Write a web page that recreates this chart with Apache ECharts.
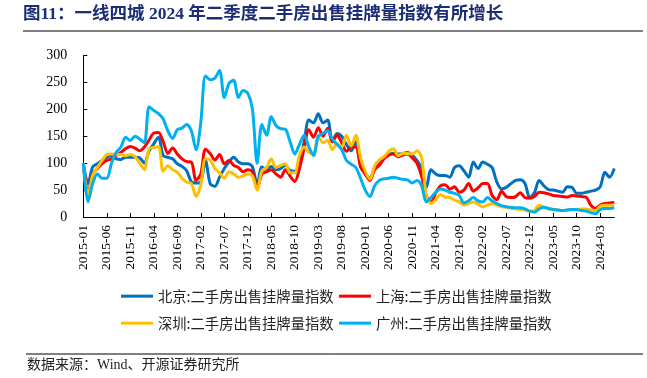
<!DOCTYPE html>
<html><head><meta charset="utf-8">
<script src="https://cdn.jsdelivr.net/npm/echarts@6/dist/echarts.min.js"></script>
<style>html,body{margin:0;padding:0;background:#fff}#c{width:647px;height:378px}</style>
</head><body><div id="c"></div>
<script>
const categories = [
'2015-01','2015-02','2015-03','2015-04','2015-05','2015-06','2015-07','2015-08','2015-09','2015-10','2015-11','2015-12',
'2016-01','2016-02','2016-03','2016-04','2016-05','2016-06','2016-07','2016-08','2016-09','2016-10','2016-11','2016-12',
'2017-01','2017-02','2017-03','2017-04','2017-05','2017-06','2017-07','2017-08','2017-09','2017-10','2017-11','2017-12',
'2018-01','2018-02','2018-03','2018-04','2018-05','2018-06','2018-07','2018-08','2018-09','2018-10','2018-11','2018-12',
'2019-01','2019-02','2019-03','2019-04','2019-05','2019-06','2019-07','2019-08','2019-09','2019-10','2019-11','2019-12',
'2020-01','2020-02','2020-03','2020-04','2020-05','2020-06','2020-07','2020-08','2020-09','2020-10','2020-11','2020-12',
'2021-01','2021-02','2021-03','2021-04','2021-05','2021-06','2021-07','2021-08','2021-09','2021-10','2021-11','2021-12',
'2022-01','2022-02','2022-03','2022-04','2022-05','2022-06','2022-07','2022-08','2022-09','2022-10','2022-11','2022-12',
'2023-01','2023-02','2023-03','2023-04','2023-05','2023-06','2023-07','2023-08','2023-09','2023-10','2023-11','2023-12',
'2024-01','2024-02','2024-03','2024-04','2024-05','2024-06'];

const beijing = [100,62,93,99,105,111,114,108,107,111,111,111,110,100,123,136,148,114,111,108,99,94,86,65,63,65,105,62,57,74,
90,102,111,102,99,99,93,60,93,88,94,88,90,96,86,85,100,140,180,175,192,175,180,140,155,150,135,123,140,105,
80,72,92,102,110,116,118,117,118,120,115,105,90,55,88,80,77,77,74,92,95,86,74,102,90,102,98,92,65,52,
55,62,68,69,62,36,45,68,58,51,50,48,46,56,55,44,44,46,48,50,56,83,74,90];

const shanghai = [100,44,80,90,99,105,108,114,120,127,131,128,123,130,143,156,157,140,118,128,117,108,103,102,68,80,126,118,106,116,
99,105,96,92,84,88,84,52,80,84,88,80,74,88,76,66,90,128,162,148,166,150,165,140,152,138,122,130,130,93,
80,68,88,96,108,115,117,112,115,117,110,100,75,40,27,45,58,60,52,56,46,50,62,48,54,62,62,40,32,48,
38,36,38,45,36,35,38,46,45,43,40,39,38,37,40,39,38,37,22,16,22,25,26,27];

const shenzhen = [100,40,78,92,105,116,117,116,116,114,116,112,100,88,127,129,131,85,95,88,83,72,65,62,38,60,108,106,90,82,
72,84,80,74,76,80,76,50,86,92,108,92,96,99,82,82,115,130,120,118,150,138,142,125,136,130,152,132,152,110,
85,70,95,106,112,122,127,114,118,118,117,123,110,40,25,32,42,37,36,31,28,22,25,28,24,19,22,25,22,19,
18,16,15,14,13,10,12,22,18,15,14,13,12,13,14,14,15,15,13,12,20,22,22,23];

const guangzhou = [100,28,62,80,72,72,100,120,130,148,142,150,145,138,205,198,192,182,160,146,162,165,172,160,125,175,262,255,258,272,
222,248,254,222,235,230,200,100,172,152,186,170,164,163,140,117,135,152,130,114,150,155,160,145,135,125,105,98,92,72,
50,38,58,68,71,72,74,72,70,69,63,68,58,28,36,46,52,50,46,44,40,26,30,36,30,28,36,30,25,21,
19,18,17,17,15,11,9,15,18,16,14,13,12,13,14,14,12,11,8,6,14,16,16,17];

const seriesNames = ['北京:二手房出售挂牌量指数','上海:二手房出售挂牌量指数','深圳:二手房出售挂牌量指数','广州:二手房出售挂牌量指数'];
const seriesData = [beijing, shanghai, shenzhen, guangzhou];
const colors = ['#0070C0','#FF0000','#FFC000','#00B0F0'];
const yTicks = [0,50,100,150,200,250,300];

const cjk = '"Noto Sans CJK SC", sans-serif';
const serif = '"Liberation Serif", "Times New Roman", serif';

const chart = echarts.init(document.getElementById('c'), null, {renderer:'canvas'});
const legendPos = [[121,289],[339,289],[121,316],[339,316]];
chart.setOption({
  animation: false,
  backgroundColor: '#fff',
  graphic: [
    {type:'text', left:23, top:6, style:{text:'图11：一线四城 2024 年二季度二手房出售挂牌量指数有所增长', fill:'#1c2d78', font:'bold 17.5px "Liberation Serif", "Noto Sans CJK SC", serif'}},
    {type:'line', shape:{x1:23,y1:31,x2:643,y2:31}, style:{stroke:'#000', lineWidth:1}},
    {type:'line', shape:{x1:26,y1:354,x2:643,y2:354}, style:{stroke:'#000', lineWidth:1}},
    {type:'text', left:27, top:358, style:{text:'数据来源：Wind、开源证券研究所', fill:'#222', font:'14px "Liberation Serif", "Noto Sans CJK SC", serif'}}
  ],
  grid: {left:83.3, right:32.7, top:55.5, bottom:161},
  legend: seriesNames.map((n,k)=>({
    data:[n], left:legendPos[k][0], top:legendPos[k][1], padding:0, itemGap:0,
    icon:'rect', itemWidth:32, itemHeight:3,
    textStyle:{fontSize:14.3, fontFamily:cjk, color:'#222'}
  })),
  xAxis: {
    type:'category', data:categories, boundaryGap:false,
    axisLine:{lineStyle:{color:'#000', width:1}},
    axisTick:{show:true, inside:true, length:4, interval:4, lineStyle:{color:'#000'}},
    axisLabel:{interval:4, rotate:90, margin:8, fontSize:13.5, fontFamily:serif, color:'#000'},
    splitLine:{show:false}
  },
  yAxis: {
    type:'value', min:yTicks[0], max:yTicks[yTicks.length-1], interval:50,
    axisLine:{show:true, lineStyle:{color:'#000', width:1}},
    axisTick:{show:true, inside:true, length:4, lineStyle:{color:'#000'}},
    axisLabel:{fontSize:14, fontFamily:serif, color:'#000', margin:16},
    splitLine:{show:false}
  },
  series: seriesNames.map((n,k)=>({
    name:n, type:'line', data:seriesData[k], smooth:0.3, showSymbol:false, symbol:'none',
    lineStyle:{color:colors[k], width:3}, itemStyle:{color:colors[k]}
  }))
});
</script></body></html>
